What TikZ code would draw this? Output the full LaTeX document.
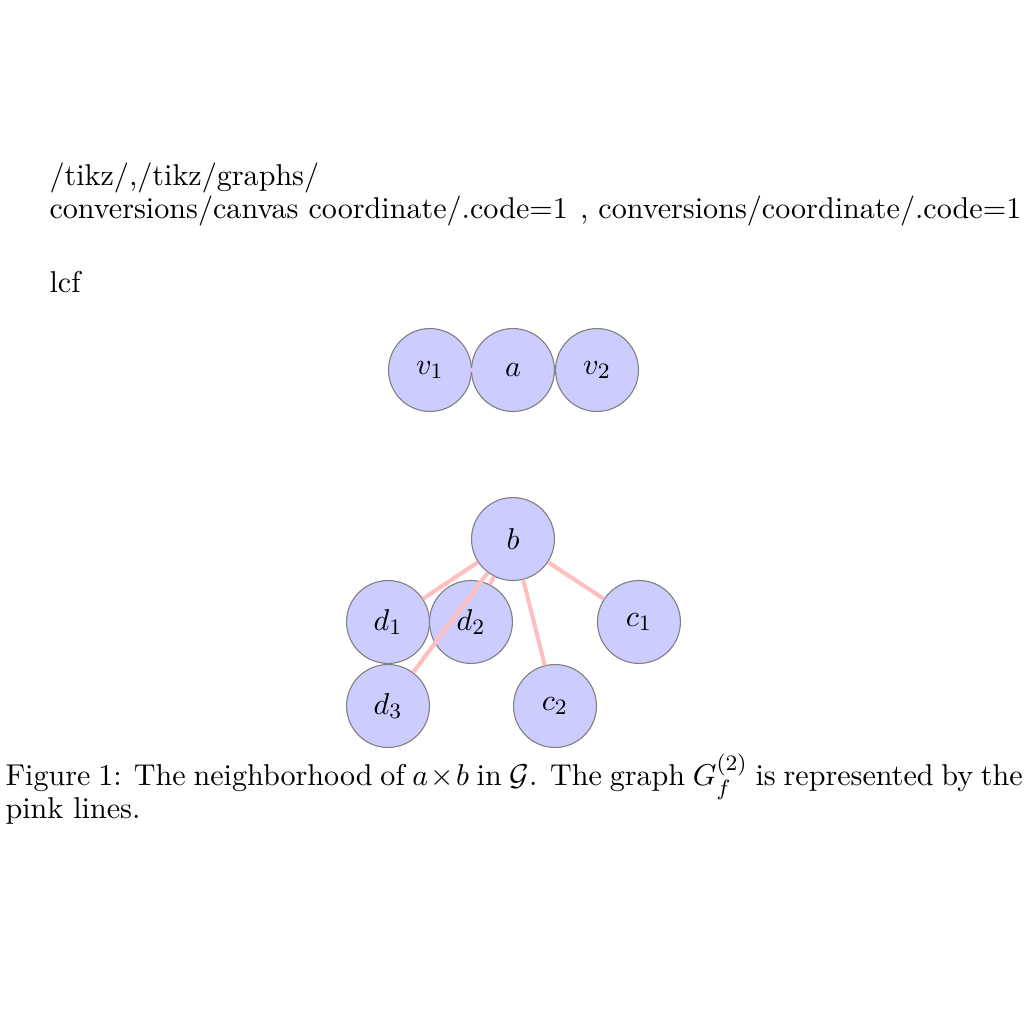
\documentclass[tikz,border=0pt]{standalone}
\usepackage{tikz}

\tikzset{
  vertex/.style={circle, fill=blue!20, draw=black!50, minimum size=1.06cm, inner sep=0pt},
  pinkedge/.style={pink, line width=1.5pt},
  plain/.style={anchor=base west, inner sep=0pt}
}

\begin{document}
\begin{tikzpicture}[font=\fontsize{10.95}{13.6}\selectfont]
                \useasboundingbox (0,0) rectangle (13.087,13.087);

                \node[plain] (opts) at (0.626,10.722) {/tikz/,/tikz/graphs/};
                \node[plain] (convA) at (0.626,10.288) {conversions/canvas coordinate/.code=1};
                \node[plain, anchor=base east] (convB) at (13.06,10.288) {, conversions/coordinate/.code=1};
                \node[plain] (lcf) at (0.626,9.355) {lcf};

                \node[vertex] (v1) at (5.495,8.358) {$v_{1}$};
                \node[vertex] (a) at (6.556,8.358) {$a$};
                \node[vertex] (v2) at (7.630,8.358) {$v_{2}$};

                \node[vertex] (b) at (6.556,6.198) {$b$};
                \node[vertex] (d1) at (4.959,5.138) {$d_{1}$};
                \node[vertex] (d2) at (6.019,5.138) {$d_{2}$};
                \node[vertex] (c1) at (8.166,5.138) {$c_{1}$};
                \node[vertex] (d3) at (4.959,4.064) {$d_{3}$};
                \node[vertex] (c2) at (7.093,4.064) {$c_{2}$};

                \draw[pinkedge] (v1) -- (a);
                \draw[pinkedge] (a) -- (v2);
                \draw[pinkedge] (b) -- (d1);
                \draw[pinkedge] (b) -- (d2);
                \draw[pinkedge] (b) -- (d3);
                \draw[pinkedge] (b) -- (c1);
                \draw[pinkedge] (b) -- (c2);

                \node[plain] (cap1) at (0.064,3.042) {\makebox[13cm][s]{Figure 1: The neighborhood of $a\times b$ in $\mathcal{G}$. The graph $G_f^{(2)}$ is represented by the}};
                \node[plain] (cap2) at (0.064,2.620) {pink lines.};
            \end{tikzpicture}
\end{document}
